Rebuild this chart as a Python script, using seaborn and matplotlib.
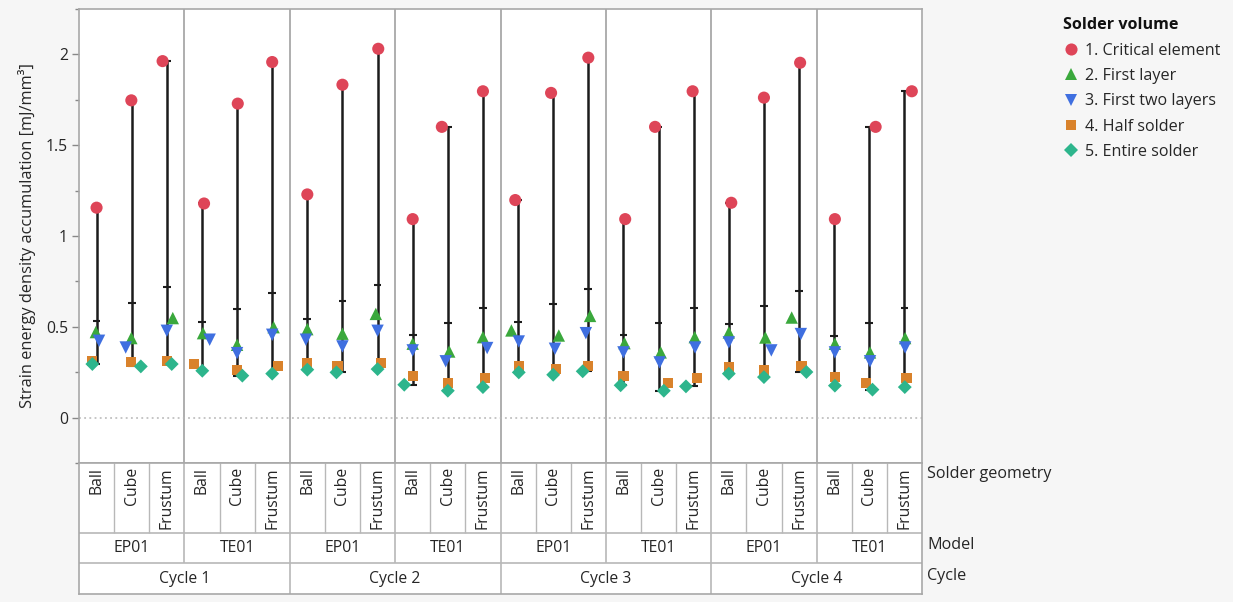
import numpy as np
import pandas as pd
import matplotlib
matplotlib.use("Agg")
import matplotlib.pyplot as plt
import seaborn as sns
from matplotlib.ticker import MultipleLocator, FuncFormatter

# ---------------- data ----------------
cycles = ["Cycle 1", "Cycle 2", "Cycle 3", "Cycle 4"]
models = ["EP01", "TE01"]
geometries = ["Ball", "Cube", "Frustum"]
volumes = ["1. Critical element", "2. First layer", "3. First two layers",
           "4. Half solder", "5. Entire solder"]

# values per cell, order: cycle -> model -> geometry
critical = [1.156, 1.747, 1.963, 1.179, 1.729, 1.958,
            1.229, 1.833, 2.031, 1.093, 1.601, 1.797,
            1.198, 1.788, 1.982, 1.093, 1.601, 1.797,
            1.183, 1.762, 1.954, 1.093, 1.601, 1.797]
first_layer = [0.471, 0.438, 0.548, 0.465, 0.401, 0.498,
               0.487, 0.462, 0.571, 0.407, 0.364, 0.443,
               0.480, 0.452, 0.560, 0.410, 0.359, 0.443,
               0.469, 0.441, 0.551, 0.407, 0.359, 0.438]
first_two = [0.423, 0.386, 0.478, 0.429, 0.355, 0.456,
             0.429, 0.392, 0.478, 0.370, 0.310, 0.383,
             0.419, 0.379, 0.465, 0.359, 0.304, 0.386,
             0.414, 0.370, 0.460, 0.359, 0.310, 0.386]
half_solder = [0.313, 0.306, 0.313, 0.297, 0.264, 0.282,
               0.300, 0.286, 0.300, 0.227, 0.190, 0.218,
               0.282, 0.269, 0.286, 0.227, 0.190, 0.218,
               0.277, 0.264, 0.282, 0.223, 0.190, 0.218]
entire_solder = [0.295, 0.282, 0.295, 0.258, 0.231, 0.242,
                 0.264, 0.249, 0.267, 0.181, 0.148, 0.168,
                 0.249, 0.236, 0.255, 0.178, 0.148, 0.172,
                 0.242, 0.223, 0.251, 0.176, 0.154, 0.168]

# horizontal jitter of each point inside its cell (fraction of a cell)
jit_critical = [0, -0.01, -0.12, 0.06, 0.02, 0,
                0, 0, 0.02, 0, -0.17, 0,
                -0.08, -0.06, 0, 0.05, -0.1, -0.03,
                0.07, 0, 0.03, 0.02, 0.18, 0.21]
jit_first_layer = [-0.02, -0.01, 0.17, 0.03, 0, 0.04,
                   0, 0, -0.05, 0, 0.04, 0,
                   -0.19, 0.16, 0.05, 0.03, 0.06, 0.03,
                   0, 0.04, -0.21, 0.02, 0.02, 0.02]
jit_first_two = [0.07, -0.17, 0, 0.22, 0, 0,
                 -0.04, 0, 0, 0, -0.06, 0.12,
                 0.02, 0.05, -0.07, 0, 0.03, 0.04,
                 0, 0.21, 0.05, 0.02, 0.02, 0.02]
jit_half = [-0.12, -0.01, 0, -0.22, 0, 0.16,
            0, -0.14, 0.1, 0.01, 0, 0.06,
            0.02, 0.07, 0, 0, 0.26, 0.1,
            0, 0, 0.07, 0.02, -0.1, 0.06]
jit_entire = [-0.12, 0.26, 0.14, 0.01, 0.15, 0,
              0, -0.17, 0, -0.24, 0, 0,
              0.02, 0, -0.16, -0.08, 0.15, -0.22,
              0, 0, 0.21, 0.02, 0.09, 0.01]

series = [critical, first_layer, first_two, half_solder, entire_solder]
jitters = [jit_critical, jit_first_layer, jit_first_two, jit_half, jit_entire]

rows = []
for ci, c in enumerate(cycles):
    for mi, m in enumerate(models):
        for gi, g in enumerate(geometries):
            k = ci * 6 + mi * 3 + gi
            for vname, vals, jit in zip(volumes, series, jitters):
                rows.append(dict(Cycle=c, Model=m, Geometry=g, Volume=vname,
                                 Value=vals[k], cell=k, xpos=k + jit[k]))
df = pd.DataFrame(rows)

palette = dict(zip(volumes, ["#DE4558", "#3AA83C", "#3F6FE0", "#D9822B", "#2DB58C"]))
markers = dict(zip(volumes, ["o", "^", "v", "s", "D"]))
sizes = dict(zip(volumes, [76, 80, 80, 54, 50]))

# ---------------- figure ----------------
sns.set_theme(style="white")
plt.rcParams["font.family"] = ["Open Sans", "DejaVu Sans"]
W, H = 1233, 602
BG = "#f6f6f6"
GRID = "#a8a8a8"
TXT = "#262626"
FS = 11.3
fig = plt.figure(figsize=(W / 100, H / 100), dpi=100, facecolor=BG)

ax = fig.add_axes([79 / W, (H - 463) / H, (922 - 79) / W, (463 - 9) / H])
ax.set_facecolor("white")
ax.set_xlim(-0.5, 23.5)
ax.set_ylim(-0.25, 2.25)

# group separators and zero reference
for b in np.arange(2.5, 23, 3):
    ax.axvline(b, color=GRID, lw=1.3, zorder=1)
ax.axhline(0, color="#b5b5b5", ls=(0, (1.2, 2.2)), lw=1.1, zorder=1)

# range bars with mean tick
stats = df.groupby("cell")["Value"].agg(["min", "max", "mean"]).reset_index()
ax.vlines(stats["cell"], stats["min"], stats["max"], color="#1c1c1c", lw=1.8, zorder=2)
cw = 0.11
for col in ["min", "max", "mean"]:
    ax.hlines(stats[col], stats["cell"] - cw, stats["cell"] + cw,
              color="#1c1c1c", lw=1.5, zorder=2)

sns.scatterplot(data=df, x="xpos", y="Value", hue="Volume", style="Volume", size="Volume",
                hue_order=volumes, style_order=volumes, size_order=volumes,
                palette=palette, markers=markers, sizes=sizes,
                linewidth=0, edgecolor="none", ax=ax, zorder=3)

ax.set_xticks([])
ax.set_xlabel("")
ax.set_ylabel("")
ax.yaxis.set_major_locator(MultipleLocator(0.5))
ax.yaxis.set_minor_locator(MultipleLocator(0.25))
ax.yaxis.set_major_formatter(FuncFormatter(lambda v, _: f"{v:g}"))
ax.tick_params(axis="y", which="major", left=True, length=5, width=1, color="#888888",
               labelsize=FS, labelcolor=TXT, pad=3)
ax.tick_params(axis="y", which="minor", left=True, length=3, width=1, color="#888888")
for s in ax.spines.values():
    s.set_color(GRID)
    s.set_linewidth(1.2)

fig.text(27 / W, 1 - 236 / H, "Strain energy density accumulation [mJ/mm³]",
         rotation=90, ha="center", va="center", fontsize=11.8, color=TXT)

# legend
sns.move_legend(ax, "upper left", bbox_to_anchor=(1063 / W, 1 - 17 / H),
                bbox_transform=fig.transFigure, frameon=False, title="Solder volume",
                fontsize=11.6, title_fontsize=11.6, labelspacing=0.58,
                handletextpad=0.35, borderpad=0, borderaxespad=0, handlelength=1.0)
leg = ax.get_legend()
leg.get_title().set_fontweight("bold")
leg.get_title().set_color("#111111")
for t in leg.get_texts():
    t.set_color(TXT)
leg._legend_box.align = "left"
leg._legend_box.sep = 7

# ---------------- category table ----------------
tax = fig.add_axes([79 / W, (H - 594) / H, (922 - 79) / W, (594 - 463) / H])
tax.set_facecolor("white")
tax.set_xlim(-0.5, 23.5)
tax.set_ylim(0, 131)
tax.set_xticks([])
tax.set_yticks([])
for s in tax.spines.values():
    s.set_color(GRID)
    s.set_linewidth(1.2)
y_cyc, y_mod, y_geo = 30.7, 61.3, 131
LC = "#b8b8b8"
tax.hlines([y_cyc, y_mod], -0.5, 23.5, color=LC, lw=1.2)
for k in range(23):
    b = k + 0.5
    if (k + 1) % 6 == 0:
        tax.vlines(b, 0, y_geo, color=LC, lw=1.2)
    elif (k + 1) % 3 == 0:
        tax.vlines(b, y_cyc, y_geo, color=LC, lw=1.2)
    else:
        tax.vlines(b, y_mod, y_geo, color=LC, lw=1.0)

for ci, c in enumerate(cycles):
    tax.text(ci * 6 + 2.5, y_cyc / 2, c, ha="center", va="center", fontsize=FS, color=TXT)
    for mi, m in enumerate(models):
        tax.text(ci * 6 + mi * 3 + 1, (y_cyc + y_mod) / 2, m, ha="center", va="center",
                 fontsize=FS, color=TXT)
        for gi, g in enumerate(geometries):
            k = ci * 6 + mi * 3 + gi
            tax.text(k, y_geo - 4, g, rotation=90, ha="center", va="top",
                     fontsize=FS, color=TXT)

fig.text(927 / W, 1 - 474 / H, "Solder geometry", ha="left", va="center", fontsize=11.6, color=TXT)
fig.text(927 / W, 1 - 545 / H, "Model", ha="left", va="center", fontsize=11.6, color=TXT)
fig.text(927 / W, 1 - 576 / H, "Cycle", ha="left", va="center", fontsize=11.6, color=TXT)

fig.savefig("out.png", dpi=100, facecolor=BG)
